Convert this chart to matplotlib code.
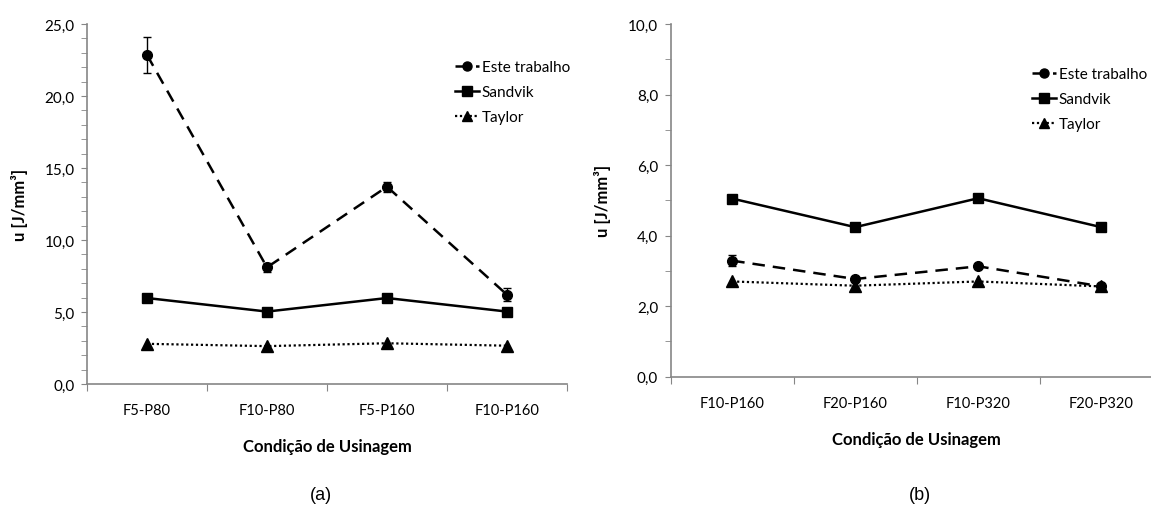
import numpy as np
import matplotlib
matplotlib.use("Agg")
import matplotlib.pyplot as plt
from matplotlib.ticker import MultipleLocator, FuncFormatter, FixedLocator

plt.rcParams['font.family'] = ['Lato', 'DejaVu Sans']

# Painel (a)
cats_a = ["F5-P80", "F10-P80", "F5-P160", "F10-P160"]
este_a = [22.85, 8.1, 13.7, 6.2]
este_err_a = [1.25, 0.3, 0.35, 0.45]
sandvik_a = [5.97, 5.03, 5.97, 5.03]
taylor_a = [2.79, 2.63, 2.83, 2.66]

# Painel (b)
cats_b = ["F10-P160", "F20-P160", "F10-P320", "F20-P320"]
este_b = [3.29, 2.77, 3.13, 2.56]
este_err_b = [0.15, 0.06, 0.05, 0.04]
sandvik_b = [5.05, 4.24, 5.06, 4.24]
taylor_b = [2.70, 2.58, 2.70, 2.56]

W, H = 1151, 506
fig = plt.figure(figsize=(W / 100, H / 100), dpi=100)

GRAY = "#868686"
comma = FuncFormatter(lambda v, p: f"{v:.1f}".replace(".", ","))


def painel(rect, cats, este, err, sandvik, taylor, ymax, major, leg_xy, label, label_x):
    ax = fig.add_axes(rect)
    x = np.arange(len(cats))
    ax.errorbar(x, este, yerr=err, fmt="none", ecolor="black", elinewidth=1,
                capsize=3, zorder=2)
    ax.plot(x, este, color="black", ls=(0, (5, 3.2)), lw=1.8, marker="o", ms=7,
            label="Este trabalho", zorder=3)
    ax.plot(x, sandvik, color="black", ls="-", lw=1.8, marker="s", ms=7,
            label="Sandvik", zorder=3)
    ax.plot(x, taylor, color="black", ls=(0, (1, 1.2)), lw=1.6, marker="^",
            ms=8, label="Taylor", zorder=3)

    ax.set_xlim(-0.5, len(cats) - 0.5)
    ax.set_ylim(0, ymax)
    for s in ["top", "right"]:
        ax.spines[s].set_visible(False)
    for s in ["left", "bottom"]:
        ax.spines[s].set_color(GRAY)
        ax.spines[s].set_linewidth(1.2)

    ax.yaxis.set_major_locator(MultipleLocator(major))
    ax.yaxis.set_minor_locator(MultipleLocator(1))
    ax.yaxis.set_major_formatter(comma)
    ax.tick_params(axis="y", which="both", direction="out", length=4,
                   color=GRAY, labelsize=11, pad=5)

    ax.xaxis.set_major_locator(FixedLocator(np.arange(len(cats) + 1) - 0.5))
    ax.xaxis.set_major_formatter(FuncFormatter(lambda v, p: ""))
    ax.xaxis.set_minor_locator(FixedLocator(x))
    ax.set_xticklabels(cats, minor=True)
    ax.tick_params(axis="x", which="major", direction="out", length=5, color=GRAY)
    ax.tick_params(axis="x", which="minor", length=0, labelsize=10.5, pad=14)

    ax.set_xlabel("Condição de Usinagem", fontsize=12, fontweight="bold", labelpad=15)
    ax.set_ylabel("u [J/mm³]", fontsize=12, fontweight="bold", labelpad=12)

    leg = ax.legend(loc="upper left", bbox_to_anchor=leg_xy,
                    bbox_transform=fig.transFigure, frameon=False,
                    fontsize=11, handlelength=1.6, handletextpad=0.15,
                    labelspacing=0.72, borderaxespad=0, borderpad=0)
    for h in leg.legend_handles:
        h.set_markersize(6.5)

    fig.text(label_x / W, 1 - 496 / H, label, ha="center", va="center",
             fontsize=13, family=["Liberation Sans"])
    return ax


painel([87 / W, (H - 385) / H, 480 / W, 360 / H], cats_a, este_a, este_err_a,
       sandvik_a, taylor_a, 25, 5, (455 / W, 1 - 61 / H), "(a)", 321)
painel([670.7 / W, (H - 377.7) / H, 492 / W, 352.7 / H], cats_b, este_b, este_err_b,
       sandvik_b, taylor_b, 10, 2, (1032 / W, 1 - 68 / H), "(b)", 920)

fig.savefig("out.png", dpi=100)
